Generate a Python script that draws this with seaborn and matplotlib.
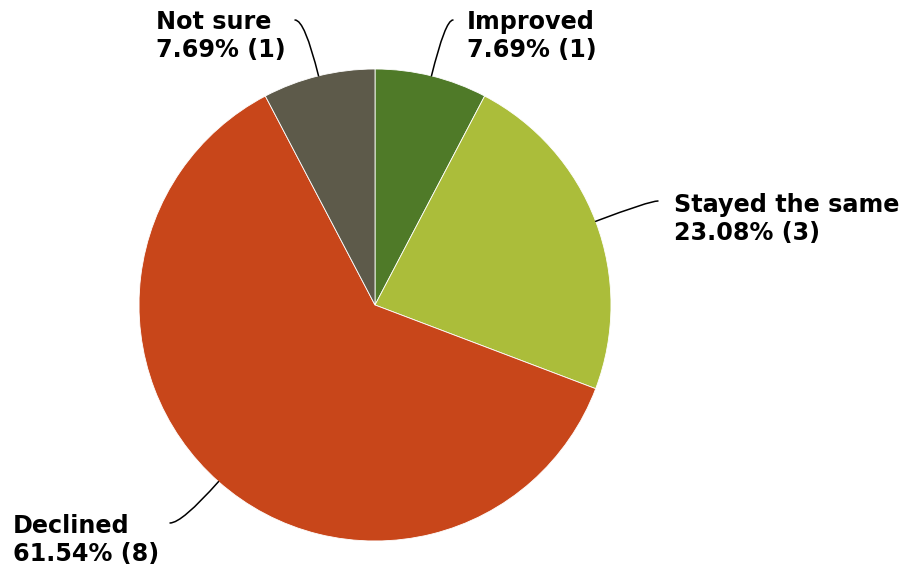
import numpy as np
import matplotlib
matplotlib.use("Agg")
import matplotlib.pyplot as plt
import seaborn as sns

sns.set_theme(style="white")
plt.rcParams["font.family"] = ["DejaVu Sans"]

categories = ["Improved", "Stayed the same", "Declined", "Not sure"]
counts = [1, 3, 8, 1]
colors = ["#4f7a28", "#abbd3a", "#c8461a", "#5d5a4a"]

W, H = 906, 572
fig = plt.figure(figsize=(W / 100, H / 100), dpi=100)
ax = fig.add_axes([0, 0, 1, 1])
ax.set_xlim(0, W)
ax.set_ylim(0, H)
ax.set_aspect("equal")
ax.axis("off")


def py(y):
    # convert a top-down pixel row into the axes' bottom-up y
    return H - y


cx, cy, radius = 375, py(305), 236
wedges, _ = ax.pie(counts, colors=colors, startangle=90, counterclock=False,
                   center=(cx, cy), radius=radius,
                   wedgeprops=dict(edgecolor="white", linewidth=0.6))
ax.set_xlim(0, W)
ax.set_ylim(0, H)

total = sum(counts)
# label anchor (left x, baseline of the second line) and connector end per slice
label_pos = [(467, 57), (674, 240), (13, 561), (156, 57)]
line_end = [(453, 20), (658, 201), (170, 523), (295, 20)]

for w, cat, n, (tx, ty), (ex, ey) in zip(wedges, categories, counts, label_pos, line_end):
    mid = np.deg2rad((w.theta1 + w.theta2) / 2)
    px, pyy = cx + radius * np.cos(mid), cy + radius * np.sin(mid)
    ax.annotate("", xy=(px, pyy), xytext=(ex, py(ey)),
                arrowprops=dict(arrowstyle="-", color="black", lw=1.1,
                                shrinkA=0, shrinkB=0,
                                connectionstyle=f"angle3,angleA=0,angleB={np.rad2deg(mid):.2f}"))
    pct = 100 * n / total
    ax.text(tx, py(ty), f"{cat}\n{pct:.2f}% ({n})", ha="left", va="baseline",
            fontsize=17.2, fontweight="bold", color="black", linespacing=1.22)

fig.savefig("out.png", dpi=100)
